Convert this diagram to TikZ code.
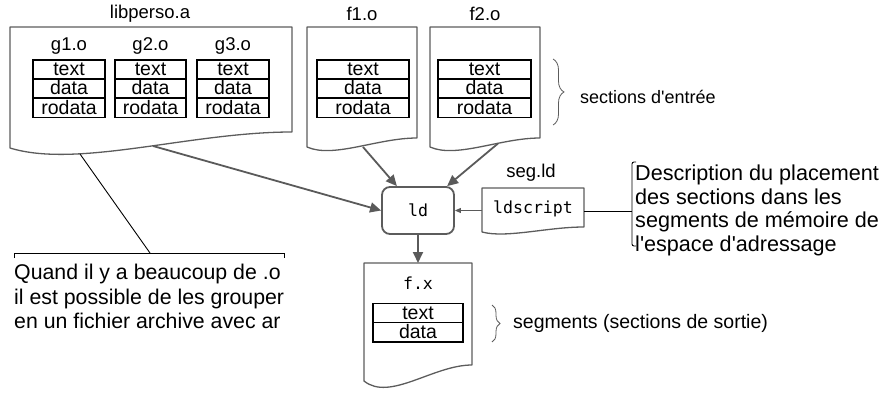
\documentclass[tikz,border=0pt]{standalone}
\usepackage{fontspec}
\setmainfont{Liberation Sans}
\setmonofont{DejaVu Sans Mono}
\usetikzlibrary{calc,arrows.meta,decorations.pathreplacing}
\definecolor{docgray}{HTML}{5C5C5C}
\definecolor{arrgray}{HTML}{5A5A5A}

% outline of a "document" shape around node #1, left end dropping by #2
\newcommand{\docoutline}[2]{%
  \draw[docline] (#1.north west) -- (#1.north east) -- (#1.south east)
    .. controls ($(#1.south east)!0.36!(#1.south west)$)
       and ($(#1.south west)!0.24!(#1.south east)+(0,2.3*#2)$)
    .. ($(#1.south west)+(0,#2)$) -- cycle;}

\begin{document}
\begin{tikzpicture}[x=1pt,y=-1pt,
  docline/.style={draw=docgray, line width=1.3pt, line join=round},
  docarea/.style 2 args={inner sep=0pt, outer sep=0pt, anchor=north west,
    minimum width=#1, minimum height=#2},
  secrow/.style={draw=black, line width=1.6pt, inner sep=0pt,
    minimum width=#1, minimum height=19.2pt, text height=13.6pt, text depth=1.2pt,
    font=\fontsize{19.5}{20}\selectfont},
  lbl/.style={inner sep=0pt, font=\fontsize{18.5}{20}\selectfont},
  mono/.style={inner sep=0pt, font=\ttfamily\fontsize{16.6}{18}\selectfont},
  flow/.style={draw=arrgray, line width=1.8pt, -{Triangle[length=11pt,width=10pt]}},
  thinflow/.style={draw=arrgray, line width=0.9pt, -{Triangle[length=6pt,width=5pt]}},
  note/.style={draw=black, line width=0.9pt},
  notetext/.style={inner sep=0pt, align=left, font=\fontsize{21.3}{24.5}\selectfont},
  curly/.style={draw=docgray, line width=0.8pt, decorate,
    decoration={brace, amplitude=#1}},
]
\useasboundingbox (0,0) rectangle (881,393);

% ---- archive libperso.a ----
\node[docarea={282pt}{105pt}] (lib) at (10,27) {};
\docoutline{lib}{16}
\node[lbl] (libname) at (150,14) {libperso.a};
\node[lbl] (g1name) at (69,46) {g1.o};
\node[lbl] (g2name) at (150.5,46) {g2.o};
\node[lbl] (g3name) at (233,46) {g3.o};
\foreach \n/\cx/\w in {g1/69/72pt, g2/150.5/71pt, g3/233/72pt}{
  \node[secrow=\w] (\n t) at (\cx,69.5) {text};
  \node[secrow=\w] (\n d) at (\cx,88.7) {data};
  \node[secrow=\w] (\n r) at (\cx,107.9) {rodata};
}

% ---- object files f1.o and f2.o ----
\node[docarea={110pt}{111pt}] (f1) at (307,27) {};
\docoutline{f1}{9}
\node[lbl] (f1name) at (362,14) {f1.o};
\node[docarea={110pt}{111pt}] (f2) at (430,27) {};
\docoutline{f2}{9}
\node[lbl] (f2name) at (485,14) {f2.o};
\foreach \n/\cx/\w in {f1/363/92pt, f2/484.5/93pt}{
  \node[secrow=\w] (\n t) at (\cx,69.5) {text};
  \node[secrow=\w] (\n d) at (\cx,88.7) {data};
  \node[secrow=\w] (\n r) at (\cx,107.9) {rodata};
}
\draw[curly=11pt] (553,59) -- (553,125);
\node[lbl, anchor=west, font=\fontsize{18}{20}\selectfont] (insec) at (580,97)
  {sections d\textquotesingle entrée};

% ---- linker ----
\node[draw=docgray, line width=1.8pt, rounded corners=8pt, minimum width=72pt,
  minimum height=47pt, mono] (ld) at (418,210.5) {ld};

% ---- linker script ----
\node[docarea={102pt}{39pt}] (seg) at (482,188) {};
\docoutline{seg}{5}
\node[lbl] (segname) at (531,173) {seg.ld};
\node[mono] (segtxt) at (533,209) {ldscript};

% ---- executable f.x ----
\node[docarea={108pt}{102pt}] (fx) at (364,263) {};
\docoutline{fx}{16}
\node[mono] (fxname) at (418,283) {f.x};
\node[secrow=90pt] (fxt) at (418,313) {text};
\node[secrow=90pt] (fxd) at (418,332.2) {data};
\draw[curly=8pt] (492,305) -- (492,342);
\node[lbl, anchor=west, font=\fontsize{19.5}{21}\selectfont] (outsec) at (513,323)
  {segments (sections de sortie)};

% ---- flows into and out of ld ----
\coordinate (libout) at (153,146);
\coordinate (f1out) at (363,147);
\coordinate (f2out) at (498,143.5);
\draw[flow] (libout) -- (ld.west);
\draw[flow] (f1out) -- (ld);
\draw[flow] (f2out) -- (ld);
\draw[flow] (ld.south) -- (fx.north);
\draw[thinflow] (seg.west |- ld.east) -- (ld.east);

% ---- notes ----
\coordinate (libnote) at (80,154);
\coordinate (qhook) at (150,253);
\draw[note] (libnote) -- (qhook);
\draw[note] (14,258) -- (14,253) -- (284,253) -- (284,258);
\node[notetext, anchor=north west] (quand) at (14,264)
  {Quand il y a beaucoup de .o\\il est possible de les grouper\\en un fichier archive avec ar};

\coordinate (dhook) at (632,211);
\draw[note] (seg.east |- dhook) -- (dhook);
\draw[note, rounded corners=2pt] (636,162) -- (632,162) -- (632,246) -- (636,246);
\node[notetext, anchor=north west, font=\fontsize{21.6}{23.7}\selectfont] (desc) at (635,164.5)
  {Description du placement\\des sections dans les\\segments de mémoire de\\l\textquotesingle espace d\textquotesingle adressage};
\end{tikzpicture}
\end{document}
